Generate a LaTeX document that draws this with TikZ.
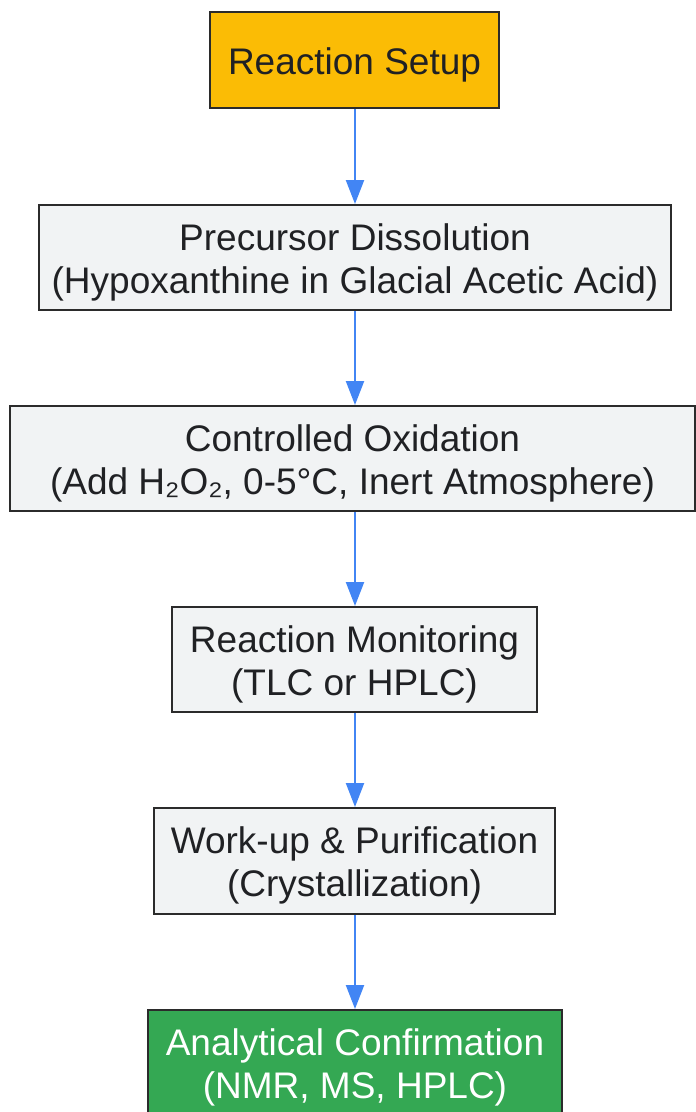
\documentclass[tikz,border=0pt]{standalone}
\usepackage{fontspec}
\setmainfont{Liberation Sans}
\usetikzlibrary{arrows.meta}
\definecolor{boxgray}{HTML}{F1F3F4}
\definecolor{boxline}{HTML}{2B2B2B}
\definecolor{startor}{HTML}{FBBC05}
\definecolor{endgr}{HTML}{34A853}
\definecolor{arrblue}{HTML}{4285F4}
\definecolor{txt}{HTML}{202124}
\tikzset{
  stepbox/.style={draw=boxline, line width=2pt, fill=boxgray, inner sep=0pt},
  steptext/.style={text=txt, align=center, inner sep=0pt, yshift=-4.5pt,
    font=\fontsize{37}{43}\selectfont},
  flowarrow/.style={draw=arrblue, line width=2.2pt, -{Triangle[width=18pt,length=24pt]}, fill=arrblue},
}
\begin{document}
\begin{tikzpicture}[x=1pt,y=-1pt]
\useasboundingbox (0,0) rectangle (696,1112);
\clip (0,0) rectangle (696,1112);
\node[stepbox, fill=startor, minimum width=289pt, minimum height=96pt,
  label={[steptext]center:Reaction Setup}] (n1) at (354.5,60) {};
\node[stepbox, minimum width=632pt, minimum height=105pt,
  label={[steptext]center:{Precursor Dissolution\\(Hypoxanthine in Glacial Acetic Acid)}}] (n2) at (355,257.5) {};
\node[stepbox, minimum width=685pt, minimum height=105pt,
  label={[steptext]center:{Controlled Oxidation\\(Add H₂O₂, 0-5°C, Inert Atmosphere)}}] (n3) at (352.5,458.5) {};
\node[stepbox, minimum width=365pt, minimum height=105pt,
  label={[steptext]center:{Reaction Monitoring\\(TLC or HPLC)}}] (n4) at (354.5,659.5) {};
\node[stepbox, minimum width=401pt, minimum height=106pt,
  label={[steptext]center:{Work-up \& Purification\\(Crystallization)}}] (n5) at (354.5,861) {};
\node[stepbox, fill=endgr, minimum width=414pt, minimum height=105pt,
  label={[steptext, text=white]center:{Analytical Confirmation\\(NMR, MS, HPLC)}}] (n6) at (355,1062.5) {};
\foreach \a/\b in {n1/n2,n2/n3,n3/n4,n4/n5,n5/n6}{
  \draw[flowarrow] (\a.south -| 355,0) -- (\b.north -| 355,0);
}
\end{tikzpicture}
\end{document}
